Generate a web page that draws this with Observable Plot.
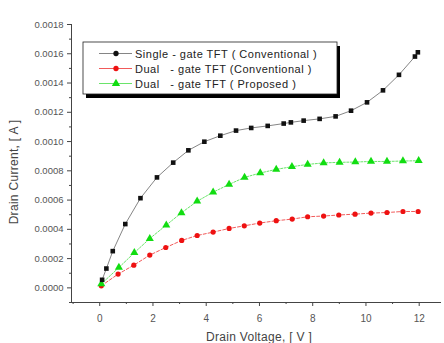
<!DOCTYPE html>
<html><head><meta charset="utf-8">
<script src="https://cdn.jsdelivr.net/npm/d3@7"></script>
<script src="https://cdn.jsdelivr.net/npm/@observablehq/plot@0.6"></script>
<style>body{margin:0;background:#fff}</style>
</head><body><div id="chart"></div>
<script>
const seriesNames = ["Single - gate TFT ( Conventional )", "Dual   - gate TFT (Conventional )", "Dual   - gate TFT ( Proposed )"];
const vSingle = [0.09,0.25,0.49,0.96,1.53,2.15,2.76,3.33,3.93,4.53,5.12,5.69,6.31,6.91,7.18,7.66,8.26,8.86,9.44,10.04,10.64,11.24,11.84,11.95];
const iSingle = [0.000055,0.000132,0.000251,0.000436,0.000613,0.000755,0.000856,0.00094,0.000999,0.00104,0.001075,0.001093,0.001107,0.001123,0.001131,0.001143,0.001155,0.001172,0.001211,0.001268,0.00135,0.001456,0.001581,0.00161];
const vDualConv = [0.06,0.69,1.28,1.88,2.48,3.08,3.66,4.26,4.86,5.43,6.01,6.63,7.23,7.81,8.41,8.98,9.59,10.19,10.79,11.39,11.96];
const iDualConv = [0.000014,0.000094,0.000155,0.000224,0.000276,0.000324,0.000358,0.000381,0.000406,0.000424,0.000443,0.000459,0.00047,0.000486,0.000491,0.000498,0.000504,0.000511,0.000515,0.000522,0.000522];
const vDualProp = [0.06,0.72,1.3,1.88,2.5,3.07,3.66,4.26,4.86,5.44,6.03,6.63,7.22,7.81,8.41,9.01,9.6,10.19,10.79,11.39,11.98];
const iDualProp = [0.000027,0.000139,0.00024,0.000337,0.000429,0.000513,0.000592,0.000654,0.000707,0.000755,0.000785,0.00081,0.000828,0.000844,0.000854,0.000858,0.00086,0.000864,0.000864,0.000867,0.000869];
const xTicks = [0,2,4,6,8,10,12];
const xMinor = [-1,1,3,5,7,9,11];
const yTicks = [0,0.0002,0.0004,0.0006,0.0008,0.0010,0.0012,0.0014,0.0016,0.0018];
const yMinor = [-0.0001,0.0001,0.0003,0.0005,0.0007,0.0009,0.0011,0.0013,0.0015,0.0017];
const xLabel = "Drain Voltage, [ V ]";
const yLabel = "Drain Current, [ A ]";

const toRows = (xs, ys) => xs.map((v, i) => ({v, i: ys[i]}));
const single = toRows(vSingle, iSingle);
const dualConv = toRows(vDualConv, iDualConv);
const dualProp = toRows(vDualProp, iDualProp);

const chart = Plot.plot({
  width: 444, height: 343,
  marginLeft: 71, marginRight: 4, marginTop: 24, marginBottom: 41,
  x: {domain: [-1.06, 12.8]},
  y: {domain: [-0.0001, 0.0018]},
  style: {fontFamily: "'Liberation Sans', Arial, sans-serif", fontSize: "9.5px", color: "#555", background: "#fff"},
  marks: [
    Plot.frame({anchor: "left", stroke: "#444"}),
    Plot.frame({anchor: "bottom", stroke: "#444"}),
    Plot.axisY(yTicks, {tickSize: 4, tickPadding: 4, tickFormat: d => d.toFixed(4), label: null, stroke: "#444", fontSize: 9.5}),
    Plot.axisY(yMinor, {tickSize: 2, text: null, label: null, stroke: "#444"}),
    Plot.axisX(xTicks, {tickSize: 4, tickPadding: 8, tickFormat: d => String(d), label: null, stroke: "#444", fontSize: 10}),
    Plot.axisX(xMinor, {tickSize: 2, text: null, label: null, stroke: "#444"}),
    Plot.line(dualConv, {x: "v", y: "i", stroke: "#ee3030", strokeWidth: 0.8, strokeDasharray: "3,2"}),
    Plot.line(dualProp, {x: "v", y: "i", stroke: "#44dd44", strokeWidth: 0.8, strokeDasharray: "2,1.5"}),
    Plot.line(single, {x: "v", y: "i", stroke: "#666", strokeWidth: 0.8}),
    Plot.dot(dualConv, {x: "v", y: "i", symbol: "circle", r: 2.6, fill: "#ee1111", stroke: "none"}),
    Plot.dot(dualProp, {x: "v", y: "i", symbol: "triangle", r: 3, fill: "#11dd11", stroke: "none"}),
    Plot.dot(single, {x: "v", y: "i", symbol: "square", r: 2.6, fill: "#111", stroke: "none"})
  ]
});
document.getElementById("chart").appendChild(chart);

const svg = d3.select(chart);
svg.append("text").attr("x", 259).attr("y", 341)
  .attr("text-anchor", "middle").attr("font-size", 12).attr("letter-spacing", 0.3).attr("fill", "#444").text(xLabel);
svg.append("text").attr("transform", "translate(18,172) rotate(-90)")
  .attr("text-anchor", "middle").attr("font-size", 12).attr("letter-spacing", 0.3).attr("fill", "#444").text(yLabel);

// legend
const lg = svg.append("g");
lg.append("rect").attr("x", 86).attr("y", 46).attr("width", 254).attr("height", 52).attr("fill", "#000");
lg.append("rect").attr("x", 83).attr("y", 42).attr("width", 254).attr("height", 52).attr("fill", "#fff").attr("stroke", "#222").attr("stroke-width", 0.8);
const colors = ["#111", "#ee1111", "#11dd11"];
const lineCols = ["#666", "#ee3030", "#44dd44"];
const syms = [d3.symbolCircle, d3.symbolCircle, d3.symbolTriangle];
seriesNames.forEach((name, k) => {
  const y = 53.5 + k * 15;
  lg.append("line").attr("x1", 99).attr("x2", 132).attr("y1", y).attr("y2", y).attr("stroke", lineCols[k]).attr("stroke-width", 0.8);
  lg.append("path").attr("d", d3.symbol(syms[k], k === 2 ? 30 : 22)()).attr("transform", `translate(116,${y})`).attr("fill", colors[k]);
  lg.append("text").attr("x", 135).attr("y", y + 4).attr("font-size", 11).attr("letter-spacing", 0.5).attr("fill", "#222")
    .attr("text-anchor", "start").style("white-space", "pre").text(name);
});
</script></body></html>
